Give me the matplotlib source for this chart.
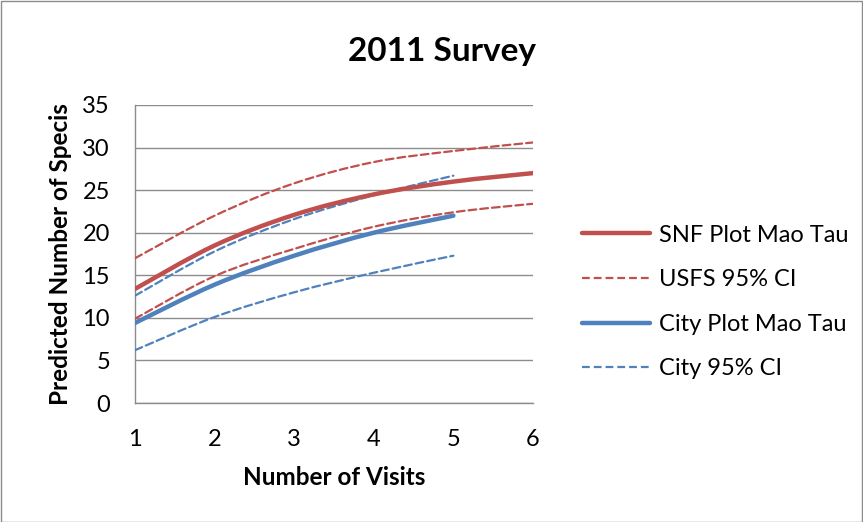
import matplotlib
matplotlib.use("Agg")
import matplotlib.pyplot as plt
from matplotlib.path import Path
from matplotlib.patches import PathPatch, Rectangle
from matplotlib.lines import Line2D
import numpy as np

plt.rcParams['font.family'] = ['Lato', 'DejaVu Sans']

visits_snf = [1, 2, 3, 4, 5, 6]
snf_main = [13.4, 18.5, 22.1, 24.5, 26.0, 27.0]
snf_upper = [17.0, 22.0, 25.8, 28.3, 29.6, 30.6]
snf_lower = [9.9, 14.9, 18.1, 20.7, 22.4, 23.4]

visits_city = [1, 2, 3, 4, 5]
city_main = [9.4, 13.9, 17.3, 20.0, 22.0]
city_upper = [12.6, 17.8, 21.6, 24.4, 26.7]
city_lower = [6.2, 10.1, 13.0, 15.3, 17.3]

RED = '#C0504D'
BLUE = '#4F81BD'
DASH = (0, (3.5, 1.8))


def smooth_path(xs, ys):
    """Excel-like smoothed line: Catmull-Rom converted to cubic Bezier."""
    pts = np.column_stack([xs, ys]).astype(float)
    n = len(pts)
    verts = [pts[0]]
    codes = [Path.MOVETO]
    for i in range(n - 1):
        p0 = pts[i - 1] if i > 0 else pts[i]
        p1 = pts[i]
        p2 = pts[i + 1]
        p3 = pts[i + 2] if i + 2 < n else pts[i + 1]
        c1 = p1 + (p2 - p0) / 6.0
        c2 = p2 - (p3 - p1) / 6.0
        verts += [c1, c2, p2]
        codes += [Path.CURVE4] * 3
    return Path(verts, codes)


fig = plt.figure(figsize=(8.63, 5.22), dpi=100)
ax = fig.add_axes([135 / 863, 1 - 403 / 522, (533 - 135) / 863, (403 - 105) / 522])

series = [
    (visits_snf, snf_upper, RED, 1.6, DASH),
    (visits_snf, snf_lower, RED, 1.6, DASH),
    (visits_city, city_upper, BLUE, 1.6, DASH),
    (visits_city, city_lower, BLUE, 1.6, DASH),
    (visits_snf, snf_main, RED, 3.2, '-'),
    (visits_city, city_main, BLUE, 3.2, '-'),
]
for xs, ys, c, lw, ls in series:
    patch = PathPatch(smooth_path(xs, ys), fill=False, edgecolor=c, lw=lw,
                      linestyle=ls, capstyle='round', joinstyle='round', zorder=3)
    ax.add_patch(patch)

ax.set_xlim(1, 6)
ax.set_ylim(0, 35)
ax.set_xticks([1, 2, 3, 4, 5, 6])
ax.set_yticks(range(0, 36, 5))
ax.grid(axis='y', color='#8C8C8C', lw=1.0, zorder=0)
ax.set_axisbelow(True)
for s in ['top', 'right']:
    ax.spines[s].set_visible(False)
for s in ['left', 'bottom']:
    ax.spines[s].set_color('#8C8C8C')
    ax.spines[s].set_linewidth(1.0)
ax.tick_params(axis='x', length=0, labelsize=17, pad=19)
ax.tick_params(axis='y', length=0, labelsize=17, pad=18)

fig.text(442 / 863, 1 - 52 / 522, '2011 Survey', fontsize=24, fontweight='bold',
         ha='center', va='center')
ax.set_xlabel('Number of Visits', fontsize=17.5, fontweight='bold')
ax.set_ylabel('Predicted Number of Specis', fontsize=17.5, fontweight='bold')
ax.xaxis.set_label_coords(0.5, (403 - 466) / 298)
ax.yaxis.set_label_coords((72 - 135) / 398, 0.5)

handles = [
    Line2D([], [], color=RED, lw=3.2, solid_capstyle='round'),
    Line2D([], [], color=RED, lw=1.6, ls=DASH),
    Line2D([], [], color=BLUE, lw=3.2, solid_capstyle='round'),
    Line2D([], [], color=BLUE, lw=1.6, ls=DASH),
]
labels = ['SNF Plot Mao Tau', 'USFS 95% CI', 'City Plot Mao Tau', 'City 95% CI']
fig.legend(handles, labels, loc='center left', bbox_to_anchor=(582 / 863, 1 - 302 / 522),
           frameon=False, fontsize=17, handlelength=2.9, handletextpad=0.35,
           labelspacing=1.0, borderpad=0, borderaxespad=0)

fig.add_artist(Rectangle((0.5 / 863, 0.5 / 522), 1 - 1.5 / 863, 1 - 1.5 / 522,
                         transform=fig.transFigure, fill=False, edgecolor='#8C8C8C', lw=1))

fig.savefig('out.png', dpi=100)
